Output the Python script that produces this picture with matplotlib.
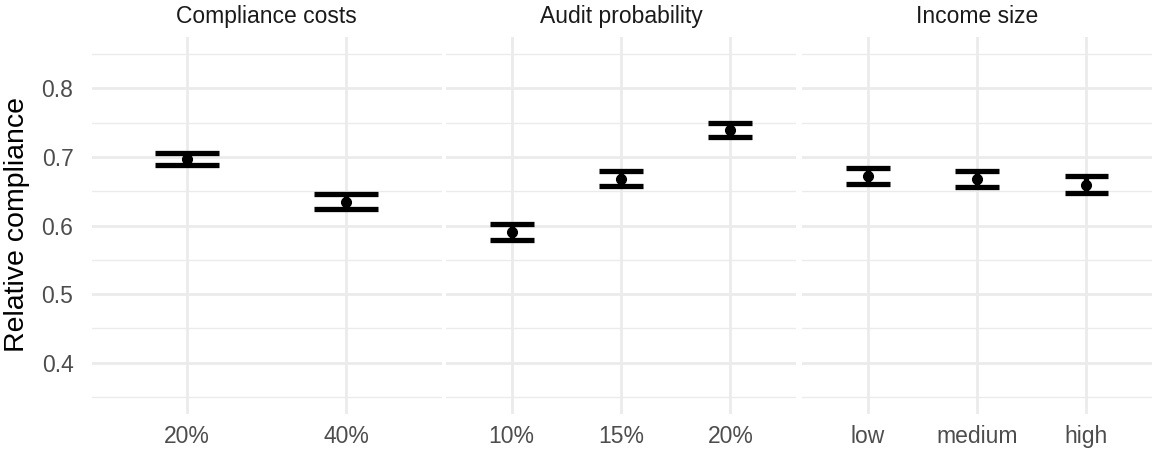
import matplotlib
matplotlib.use("Agg")
import matplotlib.pyplot as plt
import numpy as np

plt.rcParams['font.family'] = ['Liberation Sans', 'DejaVu Sans']

# ---- data ----
facet_titles = ["Compliance costs", "Audit probability", "Income size"]

cats_costs = ["20%", "40%"]
mean_costs = [0.697, 0.635]
lo_costs = [0.688, 0.624]
hi_costs = [0.706, 0.646]

cats_audit = ["10%", "15%", "20%"]
mean_audit = [0.590, 0.668, 0.739]
lo_audit = [0.579, 0.657, 0.729]
hi_audit = [0.602, 0.679, 0.749]

cats_income = ["low", "medium", "high"]
mean_income = [0.672, 0.668, 0.659]
lo_income = [0.660, 0.656, 0.647]
hi_income = [0.684, 0.680, 0.672]

y_ticks = [0.4, 0.5, 0.6, 0.7, 0.8]
y_minor = [0.35, 0.45, 0.55, 0.65, 0.75, 0.85]

facets = [
    (cats_costs, mean_costs, lo_costs, hi_costs),
    (cats_audit, mean_audit, lo_audit, hi_audit),
    (cats_income, mean_income, lo_income, hi_income),
]

W, H = 1155, 450
fig = plt.figure(figsize=(W / 100, H / 100), dpi=100)
fig.patch.set_facecolor("white")

lefts = [91.5, 446, 802]
pw = 350
ptop, pbot = 37, 414
grid_col = "#EBEBEB"

for i, (title, (cats, means, los, his)) in enumerate(zip(facet_titles, facets)):
    ax = fig.add_axes([lefts[i] / W, (H - pbot) / H, pw / W, (pbot - ptop) / H])
    n = len(cats)
    x = np.arange(1, n + 1)
    ax.set_xlim(0.4, n + 0.6)
    ax.set_ylim(0.325, 0.875)
    for s in ax.spines.values():
        s.set_visible(False)
    # grid
    for yv in y_minor:
        ax.axhline(yv, color=grid_col, lw=1.0, zorder=0)
    for yv in y_ticks:
        ax.axhline(yv, color=grid_col, lw=2.0, zorder=0)
    for xv in x:
        ax.axvline(xv, color=grid_col, lw=2.0, zorder=0)
    # error bars
    ax.vlines(x, los, his, color="black", lw=3.8, zorder=3, capstyle="butt")
    ax.hlines(los, x - 0.2, x + 0.2, color="black", lw=3.8, zorder=3)
    ax.hlines(his, x - 0.2, x + 0.2, color="black", lw=3.8, zorder=3)
    ax.plot(x, means, "o", color="black", ms=7, zorder=4)

    ax.set_xticks(x)
    ax.set_xticklabels(cats)
    ax.set_yticks(y_ticks)
    if i == 0:
        ax.set_yticklabels([f"{v:.1f}" for v in y_ticks])
    else:
        ax.set_yticklabels([])
    ax.tick_params(axis="both", length=0, labelsize=16.5, labelcolor="#4D4D4D")
    ax.tick_params(axis="x", pad=8)
    ax.tick_params(axis="y", pad=13)
    ax.text(0.5, 1 + 21 / (pbot - ptop), title, transform=ax.transAxes,
            ha="center", va="center", fontsize=16.5, color="#1A1A1A")

fig.text(17.5 / W, 1 - 225 / H, "Relative compliance", rotation=90,
         ha="center", va="center", fontsize=20.5, color="black")

fig.savefig("out.png", dpi=100, facecolor="white")
